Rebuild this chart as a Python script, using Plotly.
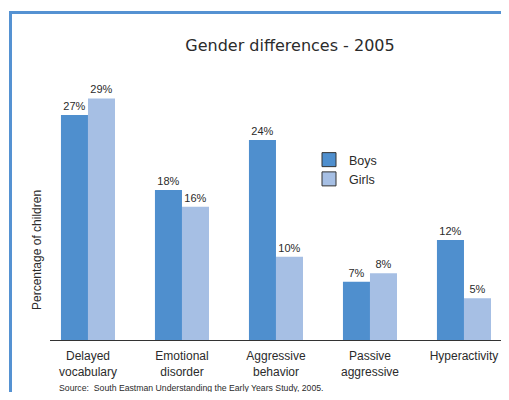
import plotly.graph_objects as go

categories = ["Delayed<br>vocabulary", "Emotional<br>disorder", "Aggressive<br>behavior",
              "Passive<br>aggressive", "Hyperactivity"]
boys = [27, 18, 24, 7, 12]
girls = [29, 16, 10, 8, 5]
series_names = ["Boys", "Girls"]
title_text = "Gender differences - 2005"
y_title = "Percentage of children"
source_text = "Source:  South Eastman Understanding the Early Years Study, 2005."

BOYS_C = "#4F8FCE"
GIRLS_C = "#A6BFE4"
BORDER_C = "#5592D2"
TXT = "#2b2b2b"
FONT = "Liberation Sans, Arial, sans-serif"

# page body has an 8px margin; figure sized so the page fits the 509x400 window
OFF = 8
W, H = 509 - 2 * OFF, 400 - 2 * OFF
ML, MR, MT, MB = 50 - OFF, 0, 60 - OFF, H - (340 - OFF)
PW = W - ML - MR
PH = H - MT - MB
CAT_PX = 94  # pixels per category

def px_x(x):  # screen x -> paper
    return (x - OFF - ML) / PW

def px_y(y):  # screen y -> paper
    return (H - MB - (y - OFF)) / PH

x_lo = -0.404
x_hi = x_lo + PW / CAT_PX

fig = go.Figure()
for name, vals, col in [(series_names[0], boys, BOYS_C), (series_names[1], girls, GIRLS_C)]:
    fig.add_trace(go.Bar(
        x=categories, y=vals, name=name, marker=dict(color=col, line=dict(width=0)),
        text=[f"{v}%" for v in vals], textposition="outside",
        textfont=dict(family=FONT, size=11, color=TXT), cliponaxis=False,
        showlegend=False))
# legend entries
for name, col in [(series_names[0], BOYS_C), (series_names[1], GIRLS_C)]:
    fig.add_trace(go.Scatter(
        x=[None], y=[None], mode="markers", name=name,
        marker=dict(symbol="square", size=14, color=col, line=dict(color="#333333", width=1))))

fig.update_layout(
    width=W, height=H,
    margin=dict(l=ML, r=MR, t=MT, b=MB),
    paper_bgcolor="white", plot_bgcolor="white",
    barmode="group", bargap=0.425, bargroupgap=0,
    title=dict(text=title_text, x=(290 - OFF) / W, xanchor="center", xref="container",
               y=1 - (45 - OFF) / H, yanchor="middle", yref="container",
               font=dict(family="DejaVu Sans, Verdana, sans-serif", size=16, color=TXT)),
    xaxis=dict(range=[x_lo, x_hi], showline=True, linecolor="#333333", linewidth=1,
               ticks="", showgrid=False, ticklabelstandoff=5,
               tickfont=dict(family=FONT, size=12, color=TXT)),
    yaxis=dict(range=[0, PH / 8.33], visible=False, showgrid=False, zeroline=False),
    legend=dict(x=px_x(309), y=px_y(145), xanchor="left", yanchor="top",
                font=dict(family=FONT, size=12.5, color=TXT), bgcolor="rgba(0,0,0,0)",
                itemsizing="trace", tracegroupgap=0),
    showlegend=True,
    annotations=[
        dict(text=y_title, x=px_x(37), y=px_y(250), xref="paper", yref="paper",
             textangle=-90, showarrow=False, xanchor="center", yanchor="middle",
             font=dict(family=FONT, size=12, color=TXT)),
        dict(text=source_text, x=px_x(57), y=px_y(388), xref="paper", yref="paper",
             showarrow=False, xanchor="left", yanchor="middle",
             font=dict(family=FONT, size=8.7, color=TXT)),
        # top border as a thin filled box
        dict(text=" ", x=px_x(9), y=px_y(11), xref="paper", yref="paper",
             showarrow=False, xanchor="left", yanchor="top", width=492, height=3,
             bgcolor=BORDER_C, borderwidth=0, borderpad=0, font=dict(size=1)),
    ],
    shapes=[
        dict(type="line", xref="paper", yref="paper", x0=px_x(10.5), x1=px_x(10.5),
             y0=px_y(11), y1=px_y(OFF + H), line=dict(color=BORDER_C, width=3)),
    ],
)

fig.write_html("out.html")
